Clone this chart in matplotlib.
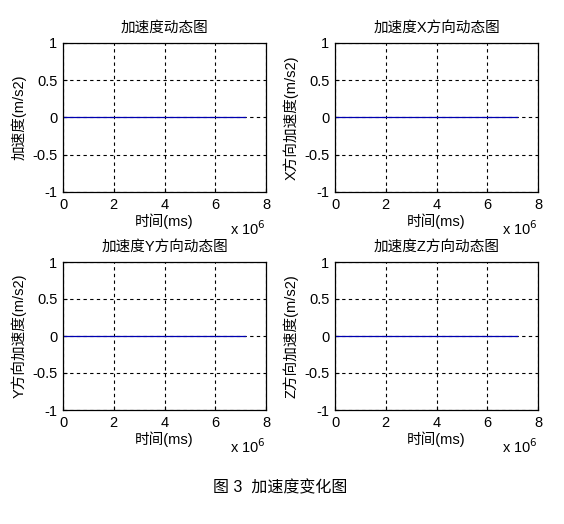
import numpy as np
import matplotlib.pyplot as plt
from matplotlib.ticker import FuncFormatter

plt.rcParams['font.family'] = ['Liberation Sans', 'Noto Sans CJK SC']
plt.rcParams['font.size'] = 10

# data: acceleration stays at zero over the whole record
time = np.array([0, 7.17e6])
acc_total = np.array([0.0, 0.0])
acc_x = np.array([0.0, 0.0])
acc_y = np.array([0.0, 0.0])
acc_z = np.array([0.0, 0.0])

titles = ['加速度动态图', '加速度X方向动态图', '加速度Y方向动态图', '加速度Z方向动态图']
ylabels = ['加速度(m/s2)', 'X方向加速度(m/s2)', 'Y方向加速度(m/s2)', 'Z方向加速度(m/s2)']
series = [acc_total, acc_x, acc_y, acc_z]
xticks = [0, 2e6, 4e6, 6e6, 8e6]
yticks = [-1, -0.5, 0, 0.5, 1]

W, H = 564, 524
fig = plt.figure(figsize=(W/100, H/100), dpi=100)

# axes boxes in pixels: left, top, right, bottom
boxes = [(63, 43, 266, 192), (335, 43, 538, 192),
         (63, 262, 266, 410), (335, 262, 538, 410)]

for i in range(4):
    l, t, r, b = boxes[i]
    ax = fig.add_axes([l/W, 1-b/H, (r-l)/W, (b-t)/H])
    ax.plot(time, series[i], color='#0000b0', lw=0.9)
    ax.set_xlim(0, 8e6)
    ax.set_ylim(-1, 1)
    ax.set_xticks(xticks)
    ax.set_yticks(yticks)
    ax.xaxis.set_major_formatter(FuncFormatter(lambda v, p: '%g' % (v/1e6)))
    ax.yaxis.set_major_formatter(FuncFormatter(lambda v, p: '%g' % v))
    ax.grid(True, color='black', linestyle=(0, (3, 3)), linewidth=0.8)
    ax.tick_params(direction='in', length=3, color='black', pad=4, labelsize=10.5)
    for s in ax.spines.values():
        s.set_linewidth(0.9)
    ax.set_title(titles[i], fontsize=10.5, pad=8)
    ax.set_xlabel('时间(ms)', fontsize=10.5, labelpad=1)
    ax.set_ylabel(ylabels[i], fontsize=10.5, labelpad=4)
    ax.text(1.0, -0.245, r'x 10$^6$', transform=ax.transAxes, ha='right', va='center', fontsize=10.5)

fig.text(280/W, 1-488/H, '图 3  加速度变化图', ha='center', va='center', fontsize=11.5)

fig.savefig('out.png', dpi=100)
